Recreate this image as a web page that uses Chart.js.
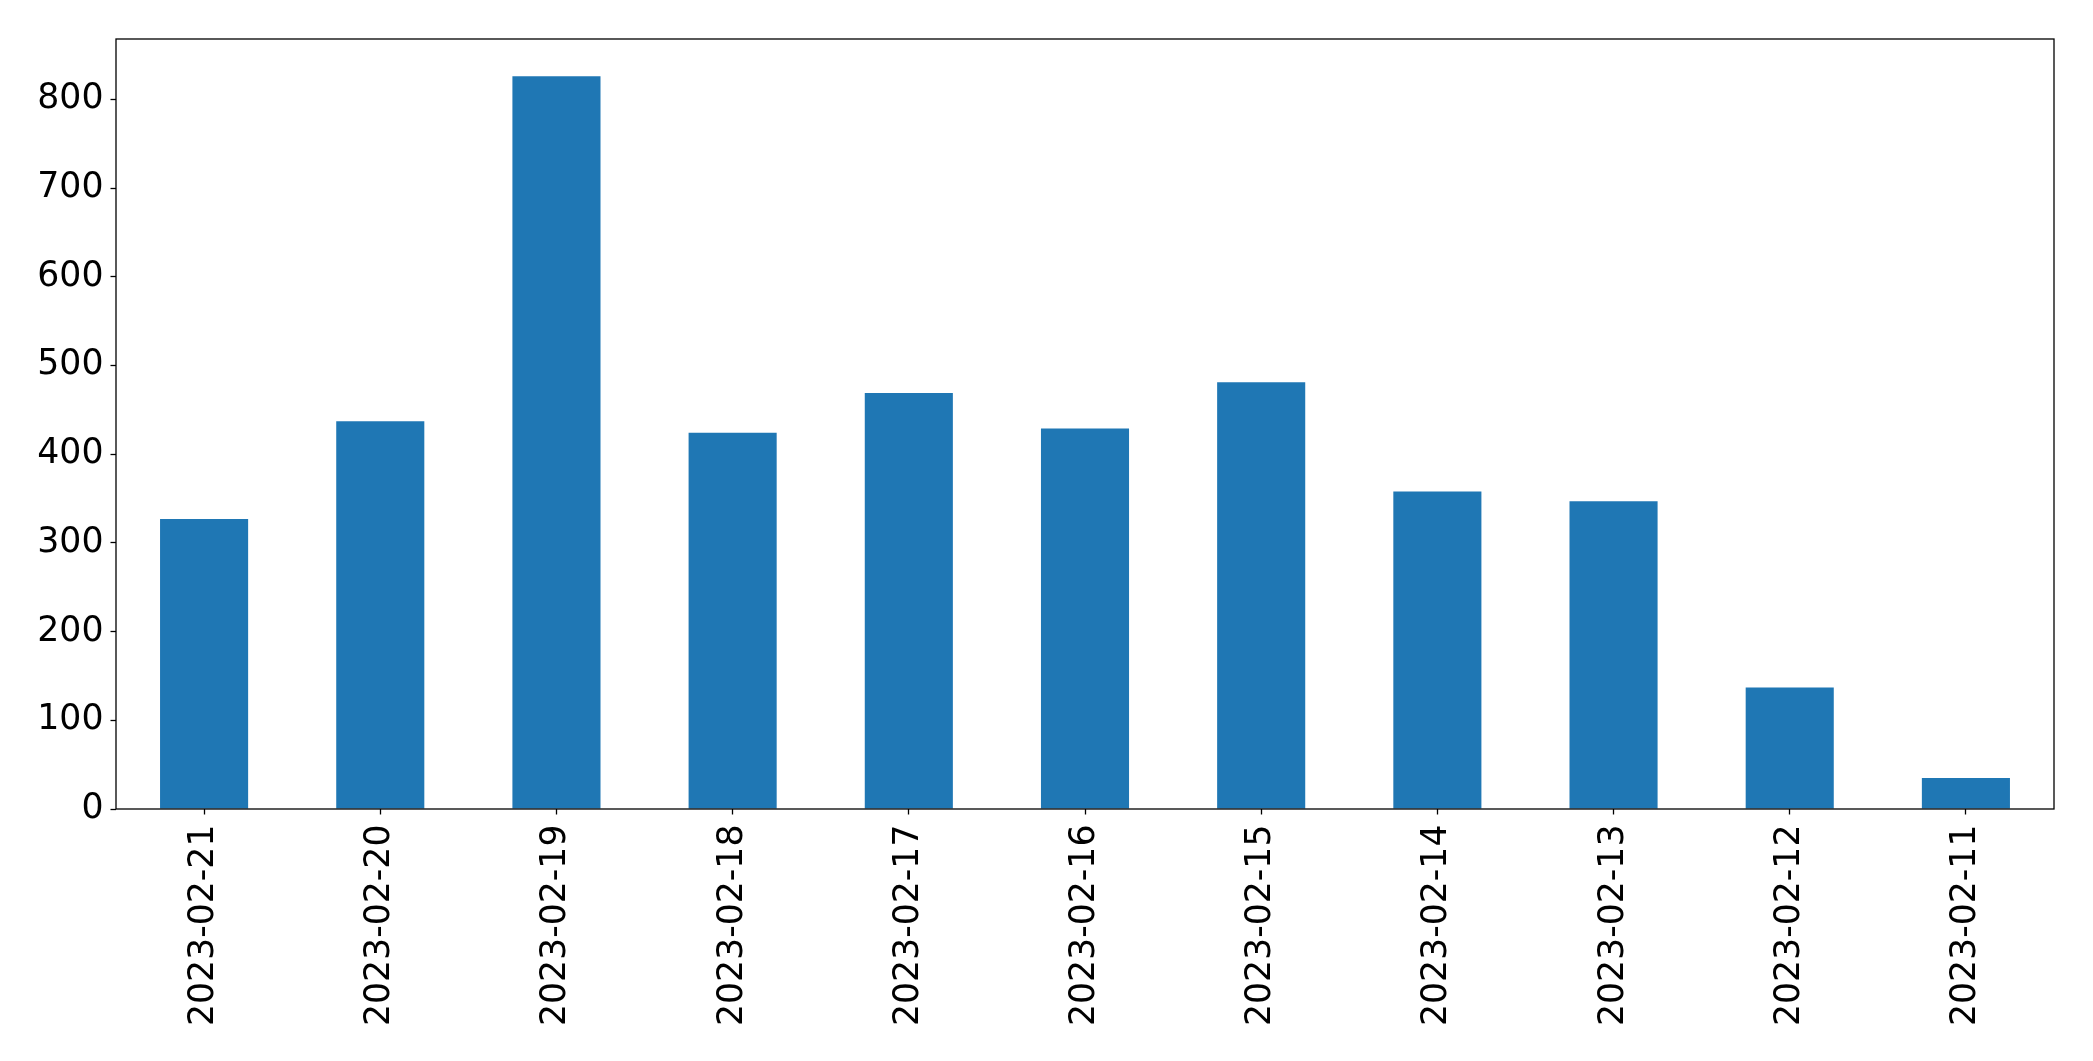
<!DOCTYPE html>
<html>
<head>
<meta charset="utf-8">
<script src="https://cdn.jsdelivr.net/npm/chart.js@4"></script>
<style>
  html, body { margin: 0; padding: 0; background: #fff; }
  #wrap { width: 2093px; height: 1061px; }
</style>
</head>
<body>
<div id="wrap"><canvas id="dailyChart" width="2093" height="1061"></canvas></div>
<script>
// values
const dates = ['2023-02-21', '2023-02-20', '2023-02-19', '2023-02-18', '2023-02-17', '2023-02-16',
               '2023-02-15', '2023-02-14', '2023-02-13', '2023-02-12', '2023-02-11'];
const counts = [327, 437, 826, 424, 469, 429, 481, 358, 347, 137, 35];
const yTicks = [0, 100, 200, 300, 400, 500, 600, 700, 800];

const barBlue = '#1f77b4';
const fontFamily = '"DejaVu Sans", sans-serif';

// --- frame around the plot area (matplotlib style box) ---
const frameBox = {
    id: 'frameBox',
    afterDraw(chart) {
        const { ctx, chartArea: a } = chart;
        ctx.save();
        ctx.strokeStyle = '#000';
        ctx.lineWidth = 1.3;
        ctx.strokeRect(a.left, a.top, a.right - a.left, a.bottom - a.top);
        ctx.restore();
    }
};

document.addEventListener('DOMContentLoaded', function() {
    const ctx = document.getElementById('dailyChart');

    new Chart(ctx, {
        type: 'bar',
        data: {
            labels: dates,
            datasets: [{
                data: counts,
                backgroundColor: barBlue,
                borderWidth: 0,
                categoryPercentage: 1.0,
                barPercentage: 0.5
            }]
        },
        options: {
            responsive: false,
            animation: false,
            events: [],
            layout: { padding: { top: 39, right: 39, left: 0, bottom: 0 } },
            plugins: { legend: { display: false }, tooltip: { enabled: false } },
            scales: {
                x: {
                    offset: true,
                    grid: { offset: false, drawOnChartArea: false, drawTicks: true, tickLength: 5.5, tickColor: '#000', tickWidth: 1.3 },
                    border: { display: false },
                    ticks: {
                        color: '#000',
                        font: { family: fontFamily, size: 34.7 },
                        minRotation: 90,
                        maxRotation: 90,
                        autoSkip: false,
                        padding: 10
                    },
                    afterFit: scale => { scale.height = 252; }
                },
                y: {
                    min: 0,
                    max: 868,
                    grid: { drawOnChartArea: false, drawTicks: true, tickLength: 5.5, tickColor: '#000', tickWidth: 1.3 },
                    border: { display: false },
                    ticks: {
                        color: '#000',
                        font: { family: fontFamily, size: 34.7 },
                        stepSize: 100,
                        padding: 7
                    },
                    afterBuildTicks: scale => {
                        scale.ticks = yTicks.map(v => ({ value: v }));
                    },
                    afterFit: scale => { scale.width = 116; }
                }
            }
        },
        plugins: [frameBox]
    });
});
</script>
</body>
</html>
